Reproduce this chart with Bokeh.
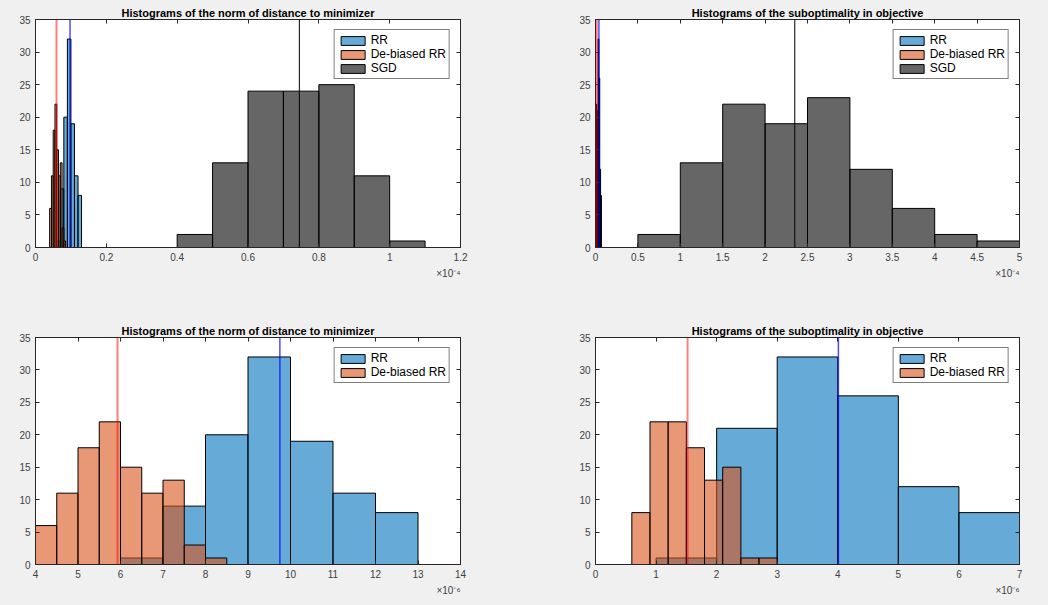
from bokeh.plotting import figure
from bokeh.layouts import column, row
from bokeh.models import (Range1d, FixedTicker, CustomJSTickFormatter, LinearAxis,
                          Title, Legend, LegendItem, Span)
from bokeh.embed import file_html
from bokeh.resources import INLINE

# ---------------- data ----------------
# norm of distance to minimizer: RR / De-biased RR in units of 1e-6
dist_rr_edges = [6, 7, 8, 9, 10, 11, 12, 13]
dist_rr_counts = [1, 9, 20, 32, 19, 11, 8]
dist_db_edges = [4.0, 4.5, 5.0, 5.5, 6.0, 6.5, 7.0, 7.5, 8.0, 8.5]
dist_db_counts = [6, 11, 18, 22, 15, 11, 13, 3, 1]
# SGD in units of 1e-4
dist_sgd_edges = [0.4, 0.5, 0.6, 0.7, 0.8, 0.9, 1.0, 1.1]
dist_sgd_counts = [2, 13, 24, 24, 25, 11, 1]
dist_rr_mean = 9.75      # 1e-6
dist_db_mean = 5.93      # 1e-6
dist_sgd_mean = 0.745    # 1e-4

# suboptimality in objective: RR / De-biased RR in units of 1e-6
obj_rr_edges = [1, 2, 3, 4, 5, 6, 7]
obj_rr_counts = [1, 21, 32, 26, 12, 8]
obj_db_edges = [0.6, 0.9, 1.2, 1.5, 1.8, 2.1, 2.4, 2.7, 3.0]
obj_db_counts = [8, 22, 22, 18, 13, 15, 1, 1]
# SGD in units of 1e-4
obj_sgd_edges = [0.5, 1.0, 1.5, 2.0, 2.5, 3.0, 3.5, 4.0, 4.5, 5.0]
obj_sgd_counts = [2, 13, 22, 19, 23, 12, 6, 2, 1]
obj_rr_mean = 4.01       # 1e-6
obj_db_mean = 1.52       # 1e-6
obj_sgd_mean = 2.35      # 1e-4

title_dist = "Histograms of the norm of distance to minimizer"
title_obj = "Histograms of the suboptimality in objective"

names = ["RR", "De-biased RR", "SGD"]
colors = ["#0072BD", "#D95319", "#000000"]

FONT = "Liberation Sans"
AX = "#262626"
TICKC = "#404040"
BG = "#f0f0f0"

y_ticks = [0, 5, 10, 15, 20, 25, 30, 35]


def make_panel(title, xr, xticks, exponent, hists, means, geom):
    W, H, bl, br, bt, bb = geom
    p = figure(width=W, height=H, x_range=Range1d(*xr), y_range=Range1d(0, 35),
               output_backend="svg", toolbar_location=None, tools="",
               min_border_left=bl, min_border_right=br,
               min_border_top=bt, min_border_bottom=bb,
               background_fill_color="white", border_fill_color=BG,
               outline_line_color=AX, outline_line_width=1)
    p.title.text = title
    p.title.align = "center"
    p.title.text_font = FONT
    p.title.text_font_size = "11px"
    p.title.text_font_style = "bold"
    p.title.text_color = "black"
    p.title.standoff = 1
    p.xgrid.visible = False
    p.ygrid.visible = False
    fmt = CustomJSTickFormatter(code="return (Math.round(tick*1000)/1000).toString();")
    for ax, ticks in ((p.xaxis[0], xticks), (p.yaxis[0], y_ticks)):
        ax.ticker = FixedTicker(ticks=ticks)
        ax.formatter = fmt
        ax.major_tick_in = 4
        ax.major_tick_out = 0
        ax.minor_tick_line_color = None
        ax.axis_line_color = AX
        ax.major_tick_line_color = AX
        ax.major_label_text_font = FONT
        ax.major_label_text_font_size = "10px"
        ax.major_label_text_color = TICKC
        ax.major_label_standoff = 5
    # mirrored tick marks on top and right (box on), without labels
    for side, ticks, so in (("above", xticks, 4), ("right", y_ticks, 0)):
        ax = LinearAxis(ticker=FixedTicker(ticks=ticks), major_tick_in=4, major_tick_out=0,
                        minor_tick_line_color=None, major_label_text_font_size="1px",
                        major_label_text_color=None,
                        major_label_standoff=so, axis_line_color=AX,
                        major_tick_line_color=AX)
        p.add_layout(ax, side)

    # exponent of the x axis, under its right end
    p.add_layout(Title(text="×10" + exponent, align="right", text_font=FONT,
                       text_font_size="10px", text_font_style="normal",
                       text_color=TICKC, standoff=5), "below")

    items = []
    for (edges, counts, name, col) in hists:
        r = p.quad(left=edges[:-1], right=edges[1:], bottom=0, top=counts,
                   fill_color=col, fill_alpha=0.6, line_color="black", line_width=1)
        items.append(LegendItem(label=name, renderers=[r]))

    for (m, col) in means:
        if col == "black":
            s = Span(location=m, dimension="height", line_color="black", line_width=1)
        elif col == "red":
            s = Span(location=m, dimension="height", line_color="red", line_alpha=0.5, line_width=2)
        else:
            s = Span(location=m, dimension="height", line_color="blue", line_alpha=0.7, line_width=1.5)
        p.add_layout(s)

    legend = Legend(items=items, location="top_right", margin=10, padding=3, spacing=0,
                    glyph_width=30, glyph_height=11, label_height=13, label_standoff=3,
                    label_text_font=FONT, label_text_font_size="12px", label_text_color="black",
                    border_line_color="black", border_line_width=1,
                    background_fill_color="white", background_fill_alpha=1.0)
    p.add_layout(legend)
    return p


s = 0.01  # 1e-6 -> 1e-4 units for the top panels

# (width, height, border left, right, top, bottom)
geom_tl = (524, 302, 35, 64, 19, 55)
geom_tr = (524, 302, 71, 29, 19, 55)
geom_bl = (524, 303, 35, 64, 35, 41)
geom_br = (524, 303, 71, 29, 35, 41)

p_tl = make_panel(
    title_dist, (0, 1.2), [0, 0.2, 0.4, 0.6, 0.8, 1.0, 1.2], "⁻⁴",
    [([e * s for e in dist_rr_edges], dist_rr_counts, names[0], colors[0]),
     ([e * s for e in dist_db_edges], dist_db_counts, names[1], colors[1]),
     (dist_sgd_edges, dist_sgd_counts, names[2], colors[2])],
    [(dist_rr_mean * s, "blue"), (dist_db_mean * s, "red"), (dist_sgd_mean, "black")],
    geom_tl)

p_tr = make_panel(
    title_obj, (0, 5), [0, 0.5, 1, 1.5, 2, 2.5, 3, 3.5, 4, 4.5, 5], "⁻⁴",
    [([e * s for e in obj_rr_edges], obj_rr_counts, names[0], colors[0]),
     ([e * s for e in obj_db_edges], obj_db_counts, names[1], colors[1]),
     (obj_sgd_edges, obj_sgd_counts, names[2], colors[2])],
    [(obj_rr_mean * s, "blue"), (obj_db_mean * s, "red"), (obj_sgd_mean, "black")],
    geom_tr)

p_bl = make_panel(
    title_dist, (4, 14), list(range(4, 15)), "⁻⁶",
    [(dist_rr_edges, dist_rr_counts, names[0], colors[0]),
     (dist_db_edges, dist_db_counts, names[1], colors[1])],
    [(dist_db_mean, "red"), (dist_rr_mean, "blue")],
    geom_bl)

p_br = make_panel(
    title_obj, (0, 7), list(range(0, 8)), "⁻⁶",
    [(obj_rr_edges, obj_rr_counts, names[0], colors[0]),
     (obj_db_edges, obj_db_counts, names[1], colors[1])],
    [(obj_db_mean, "red"), (obj_rr_mean, "blue")],
    geom_br)

layout = column(row(p_tl, p_tr, spacing=0, styles={"background-color": BG}),
                row(p_bl, p_br, spacing=0, styles={"background-color": BG}),
                spacing=0, styles={"background-color": BG})

open("out.html", "w").write(file_html(layout, INLINE))
